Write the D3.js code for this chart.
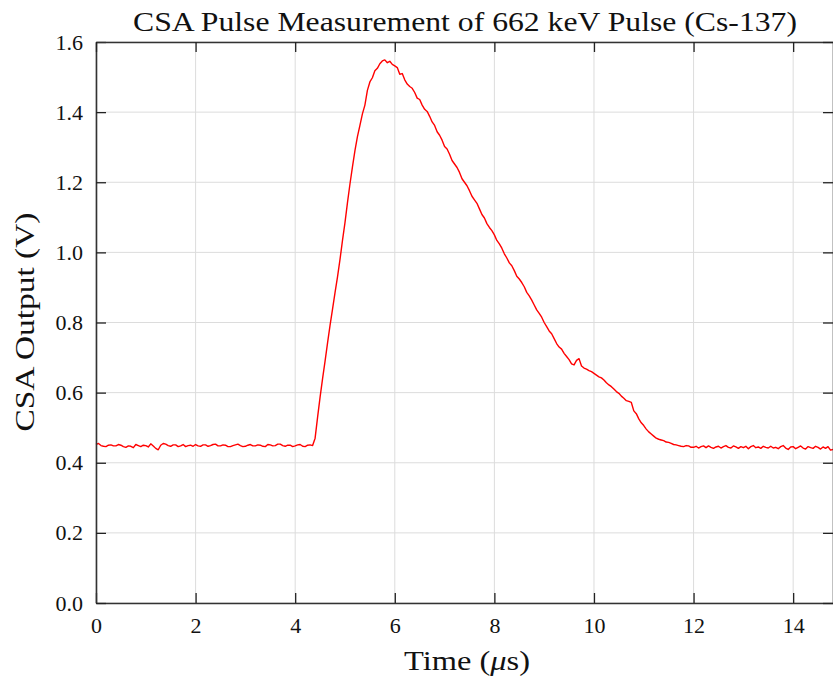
<!DOCTYPE html>
<html>
<head>
<meta charset="utf-8">
<script src="https://cdn.jsdelivr.net/npm/d3@7"></script>
<style>
  body { margin: 0; background: #fff; }
  text { font-family: "Liberation Serif", "DejaVu Serif", serif; fill: #111; }
</style>
</head>
<body>
<div id="chart"></div>
<script>
// ......................
// Data (time in us, output in V), one reading every 0.05 us
var sampleStep = 0.05;

var csaVolts = [
  // 0.00 - 4.35 baseline
  0.452, 0.455, 0.449, 0.447, 0.446, 0.450, 0.451, 0.448, 0.448, 0.452,
  0.450, 0.446, 0.444, 0.448, 0.447, 0.443, 0.452, 0.449, 0.446, 0.450,
  0.449, 0.445, 0.454, 0.448, 0.441, 0.437, 0.450, 0.455, 0.453, 0.449,
  0.447, 0.451, 0.451, 0.446, 0.448, 0.452, 0.446, 0.449, 0.450, 0.447,
  0.452, 0.448, 0.447, 0.451, 0.451, 0.447, 0.449, 0.452, 0.453, 0.448,
  0.448, 0.451, 0.450, 0.446, 0.446, 0.449, 0.451, 0.453, 0.449, 0.446,
  0.447, 0.450, 0.452, 0.448, 0.448, 0.451, 0.450, 0.447, 0.446, 0.452,
  0.451, 0.448, 0.449, 0.453, 0.453, 0.449, 0.447, 0.450, 0.450, 0.446,
  0.448, 0.451, 0.452, 0.447, 0.446, 0.450, 0.451, 0.449,
  // 4.40 - 5.95 rising edge and peak
  0.470, 0.530, 0.587, 0.640, 0.690, 0.742, 0.792, 0.838, 0.885, 0.930,
  0.980, 1.034, 1.085, 1.142, 1.195, 1.244, 1.290, 1.330, 1.362, 1.395,
  1.420, 1.462, 1.486, 1.498, 1.518, 1.525, 1.538, 1.546, 1.549, 1.541,
  1.545, 1.536,
  // 6.00 - 11.95 decay
  1.532, 1.527, 1.508, 1.510, 1.492, 1.480, 1.473, 1.468, 1.456, 1.440,
  1.436, 1.420, 1.408, 1.402, 1.388, 1.372, 1.362, 1.344, 1.334, 1.320,
  1.302, 1.295, 1.280, 1.262, 1.252, 1.242, 1.228, 1.210, 1.200, 1.190,
  1.176, 1.160, 1.150, 1.140, 1.124, 1.108, 1.098, 1.082, 1.071, 1.062,
  1.050, 1.034, 1.024, 1.012, 0.996, 0.984, 0.970, 0.962, 0.948, 0.932,
  0.924, 0.914, 0.902, 0.886, 0.876, 0.864, 0.850, 0.836, 0.826, 0.815,
  0.800, 0.788, 0.776, 0.768, 0.754, 0.740, 0.730, 0.724, 0.712, 0.703,
  0.694, 0.682, 0.679, 0.692, 0.697, 0.676, 0.670, 0.667, 0.663, 0.660,
  0.655, 0.650, 0.645, 0.642, 0.636, 0.628, 0.622, 0.617, 0.610, 0.603,
  0.598, 0.590, 0.584, 0.577, 0.575, 0.572, 0.548, 0.540, 0.525, 0.514,
  0.506, 0.496, 0.488, 0.482, 0.476, 0.470, 0.467, 0.465, 0.463, 0.459,
  0.458, 0.455, 0.452, 0.451, 0.449, 0.447, 0.446, 0.449, 0.448, 0.444,
  // 12.00 - 14.80 tail baseline
  0.444, 0.447, 0.442, 0.446, 0.448, 0.443, 0.448, 0.444, 0.441, 0.445,
  0.447, 0.442, 0.446, 0.449, 0.444, 0.442, 0.448, 0.445, 0.441, 0.446,
  0.443, 0.447, 0.440, 0.446, 0.449, 0.443, 0.445, 0.441, 0.447, 0.444,
  0.442, 0.447, 0.442, 0.444, 0.440, 0.446, 0.449, 0.442, 0.438, 0.445,
  0.446, 0.440, 0.444, 0.448, 0.442, 0.439, 0.446, 0.443, 0.441, 0.447,
  0.444, 0.439, 0.445, 0.441, 0.446, 0.436, 0.438
];

var timeUs = csaVolts.map((v, i) => +(i * sampleStep).toFixed(2));

var xTicks = [0, 2, 4, 6, 8, 10, 12, 14];
var yTicks = [0.0, 0.2, 0.4, 0.6, 0.8, 1.0, 1.2, 1.4, 1.6];

// ......................
// Setting up SVG area
var svgWidth = 833;
var svgHeight = 679;

var Margin = { top: 42, right: 0, bottom: 76, left: 96 };

var width = svgWidth - Margin.left - Margin.right;
var height = svgHeight - Margin.top - Margin.bottom;

var svg = d3.select("#chart")
    .append("svg")
    .attr("width", svgWidth)
    .attr("height", svgHeight);

var plot = svg.append("g")
    .attr("transform", `translate(${Margin.left}, ${Margin.top})`);

// ......................
// Scales
let xScale = d3.scaleLinear().domain([0, 14.8]).range([0, width]);
let yScale = d3.scaleLinear().domain([0, 1.6]).range([height, 0]);

// grid lines
plot.append("g")
    .selectAll("line.vgrid")
    .data(xTicks)
    .enter()
    .append("line")
    .attr("x1", d => xScale(d)).attr("x2", d => xScale(d))
    .attr("y1", 0).attr("y2", height)
    .attr("stroke", "#dcdcdc").attr("stroke-width", 1);

plot.append("g")
    .selectAll("line.hgrid")
    .data(yTicks)
    .enter()
    .append("line")
    .attr("x1", 0).attr("x2", width)
    .attr("y1", d => yScale(d)).attr("y2", d => yScale(d))
    .attr("stroke", "#dcdcdc").attr("stroke-width", 1);

// ......................
// Pulse trace
let points = timeUs.map((t, i) => [t, csaVolts[i]]);

let line = d3.line()
    .x(d => xScale(d[0]))
    .y(d => yScale(d[1]));

plot.append("path")
    .datum(points)
    .attr("d", line)
    .attr("fill", "none")
    .attr("stroke", "#ff0000")
    .attr("stroke-width", 1.4)
    .attr("stroke-linejoin", "round");

// ......................
// Axes (ticks pointing inward, mirrored on top and right)
let tickLen = 10;

let XAxis = d3.axisBottom(xScale).tickValues(xTicks).tickSizeInner(-tickLen).tickSizeOuter(0).tickPadding(14).tickFormat(d3.format("d"));
let YAxis = d3.axisLeft(yScale).tickValues(yTicks).tickSizeInner(-tickLen).tickSizeOuter(0).tickPadding(13).tickFormat(d3.format(".1f"));
let XTop = d3.axisTop(xScale).tickValues(xTicks).tickSizeInner(-tickLen).tickSizeOuter(0).tickFormat("");
let YRight = d3.axisRight(yScale).tickValues(yTicks).tickSizeInner(-tickLen).tickSizeOuter(0).tickFormat("");

function styleAxis(g) {
    g.select(".domain").attr("stroke", "#333").attr("stroke-width", 1.6);
    g.selectAll(".tick line").attr("stroke", "#222").attr("stroke-width", 1.3);
    g.selectAll(".tick text")
        .attr("font-family", "Liberation Serif, DejaVu Serif, serif")
        .attr("font-size", 22)
        .attr("fill", "#111");
}

plot.append("g").attr("transform", `translate(0, ${height})`).call(XAxis).call(styleAxis);
plot.append("g").call(YAxis).call(styleAxis);
plot.append("g").call(XTop).call(styleAxis);
plot.append("g").attr("transform", `translate(${width}, 0)`).call(YRight).call(styleAxis);

// ......................
// Title and axis labels
svg.append("text")
    .attr("x", 465)
    .attr("y", 31)
    .attr("text-anchor", "middle")
    .attr("font-size", 27)
    .attr("textLength", 664)
    .attr("lengthAdjust", "spacingAndGlyphs")
    .text("CSA Pulse Measurement of 662 keV Pulse (Cs-137)");

svg.append("text")
    .attr("x", 467)
    .attr("y", 670)
    .attr("text-anchor", "middle")
    .attr("font-size", 27)
    .attr("textLength", 126)
    .attr("lengthAdjust", "spacingAndGlyphs")
    .html("Time (<tspan font-style='italic'>μ</tspan>s)");

svg.append("text")
    .attr("transform", `translate(34, 322) rotate(-90)`)
    .attr("text-anchor", "middle")
    .attr("font-size", 27)
    .attr("textLength", 219)
    .attr("lengthAdjust", "spacingAndGlyphs")
    .text("CSA Output (V)");
</script>
</body>
</html>
